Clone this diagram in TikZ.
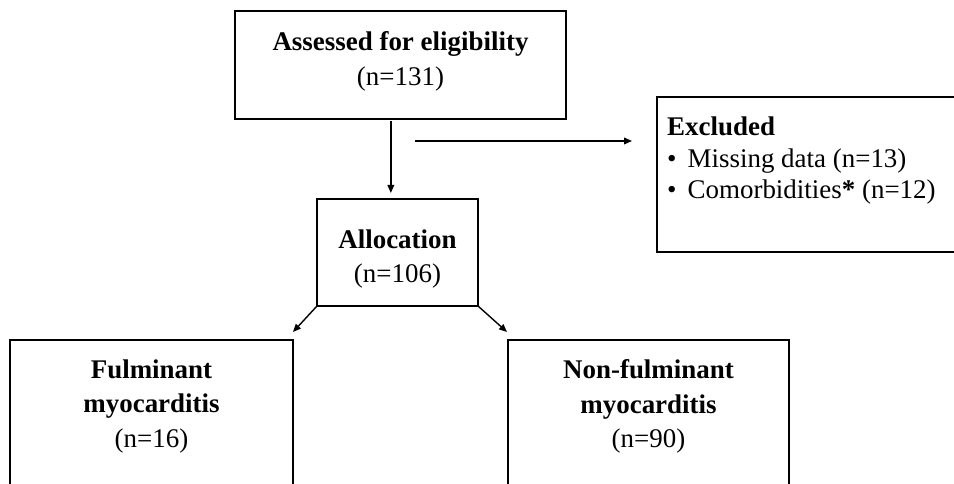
\documentclass[tikz,border=0pt]{standalone}
\usepackage{fontspec}
\setmainfont{Liberation Serif}
\usetikzlibrary{arrows.meta}

\begin{document}
\begin{tikzpicture}[
    box/.style={draw, rectangle, line width=1.2pt, inner sep=0pt, outer sep=0pt},
    txt/.style={align=center, inner sep=0pt, font=\fontsize{23}{29.5}\selectfont},
    arrow/.style={-{Triangle[length=0.24cm, width=0.2cm]}, line width=1.2pt}
]
    \useasboundingbox (0,0) rectangle (28.62,14.52);
    \clip (0,0) rectangle (28.62,14.52);

    \node[box, minimum width=9.93cm, minimum height=3.24cm] (assessed) at (12.015,12.57) {};
    \node[box, minimum width=4.83cm, minimum height=3.21cm] (alloc) at (11.925,6.945) {};
    \node[box, minimum width=9.54cm, minimum height=4.65cm] (excluded) at (24.48,9.285) {};
    \node[box, minimum width=8.49cm, minimum height=4.8cm] (fulm) at (4.545,1.92) {};
    \node[box, minimum width=8.43cm, minimum height=4.8cm] (nonfulm) at (19.455,1.92) {};

    \node[txt, anchor=north] (assessedtxt) at ([yshift=-0.615cm]assessed.north) {\textbf{Assessed for eligibility}\\(n=131)};
    \node[txt, anchor=north] (alloctxt) at ([yshift=-0.915cm]alloc.north) {\textbf{Allocation}\\(n=106)};
    \node[txt, anchor=north west, align=left, font=\fontsize{23}{27}\selectfont] (excludedtxt) at ([xshift=0.3cm, yshift=-0.585cm]excluded.north west)
        {\textbf{Excluded}\\\textbullet\hspace{0.33cm}Missing data (n=13)\\\textbullet\hspace{0.33cm}Comorbidities\textbf{*} (n=12)};
    \node[txt, anchor=north] (fulmtxt) at ([yshift=-0.585cm]fulm.north) {\textbf{Fulminant}\\\textbf{myocarditis}\\(n=16)};
    \node[txt, anchor=north] (nonfulmtxt) at ([yshift=-0.585cm]nonfulm.north) {\textbf{Non-fulminant}\\\textbf{myocarditis}\\(n=90)};

    \coordinate (branch) at (12.45,10.29);
    \coordinate (fulmtip) at (8.79,4.56);
    \coordinate (nonfulmtip) at (15.21,4.56);

    \draw[arrow, shorten >=0.18cm] ([xshift=-0.29cm, yshift=-0.06cm]assessed.south) -- ([xshift=-0.29cm]assessed.south |- alloc.north);
    \draw[arrow, shorten >=0.75cm] (branch) -- (branch -| excluded.west);
    \draw[arrow] (alloc.south west) -- (fulmtip);
    \draw[arrow] (alloc.south east) -- (nonfulmtip);
\end{tikzpicture}
\end{document}
